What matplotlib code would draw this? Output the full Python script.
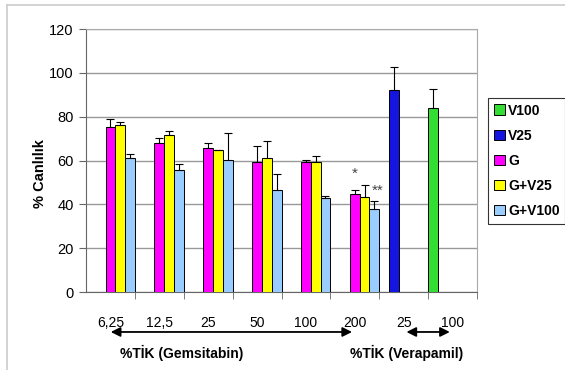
import numpy as np
import matplotlib.pyplot as plt
from matplotlib.lines import Line2D
import matplotlib.transforms as mtransforms

plt.rcParams['font.family'] = ['Liberation Sans', 'DejaVu Sans']

categories = ["6,25", "12,5", "25", "50", "100", "200", "25", "100"]
nan = np.nan
series = ["V100", "V25", "G", "G+V25", "G+V100"]
values = {
    "V100":   [nan, nan, nan, nan, nan, nan, nan, 84.1],
    "V25":    [nan, nan, nan, nan, nan, nan, 92.2, nan],
    "G":      [75.4, 68.1, 65.9, 59.3, 59.2, 44.6, nan, nan],
    "G+V25":  [76.1, 71.6, 64.9, 61.0, 59.2, 43.2, nan, nan],
    "G+V100": [61.0, 55.8, 60.1, 46.5, 42.7, 37.7, nan, nan],
}
errors = {
    "V100":   [nan, nan, nan, nan, nan, nan, nan, 8.7],
    "V25":    [nan, nan, nan, nan, nan, nan, 10.6, nan],
    "G":      [3.4, 2.3, 1.9, 7.5, 1.0, 1.9, nan, nan],
    "G+V25":  [1.3, 2.0, 0.0, 7.9, 3.0, 5.8, nan, nan],
    "G+V100": [2.0, 2.5, 12.6, 7.5, 1.0, 3.7, nan, nan],
}
colors = {
    "V100": "#33DD33",
    "V25": "#1515E0",
    "G": "#FF00FF",
    "G+V25": "#FFFF00",
    "G+V100": "#99CCFF",
}

fig = plt.figure(figsize=(5.65, 3.70), dpi=100)
ax = fig.add_axes([86 / 565, 1 - 292 / 370, 391 / 565, 263 / 370])

x = np.arange(len(categories))
w = 0.2
handles = []
for i, s in enumerate(series):
    xs = x + (i - 2) * w
    vals = np.array(values[s], dtype=float)
    errs = np.array(errors[s], dtype=float)
    ax.bar(xs, vals, width=w, color=colors[s], edgecolor="black", linewidth=0.7, zorder=3)
    ax.errorbar(xs, vals, yerr=[np.zeros_like(errs), errs], fmt="none",
                ecolor="black", elinewidth=0.8, capsize=3, capthick=0.8, zorder=4)
    handles.append(plt.Rectangle((0, 0), 1, 1, facecolor=colors[s], edgecolor="black", linewidth=0.7))

ax.set_xlim(-0.5, len(categories) - 0.5)
ax.set_ylim(0, 120)
ax.set_yticks(np.arange(0, 121, 20))
ax.yaxis.grid(True, color="#999999", linewidth=1.0, zorder=0)
ax.set_axisbelow(True)

ax.set_xticks(x)
ax.set_xticklabels(categories, fontsize=10)
ax.tick_params(axis="x", which="major", length=0, pad=17)
ax.set_xticks(np.arange(0.5, len(categories), 1.0), minor=True)
ax.tick_params(axis="x", which="minor", length=5, color="#666666")
ax.tick_params(axis="y", length=5, color="#666666", labelsize=10.5, pad=4)

for side in ["top", "right"]:
    ax.spines[side].set_color("#AAAAAA")
for side in ["left", "bottom"]:
    ax.spines[side].set_color("#666666")

# asterisks
ax.text(5.0, 54, "*", ha="center", va="center", fontsize=11, color="#444444")
ax.text(5.47, 46, "**", ha="center", va="center", fontsize=11, color="#444444")

# arrows and group labels below axis
trans = mtransforms.blended_transform_factory(ax.transData, ax.transAxes)
arrow_y = -0.152
ax.annotate("", xy=(-0.05, arrow_y), xytext=(5.0, arrow_y), xycoords=trans, textcoords=trans,
            arrowprops=dict(arrowstyle="<|-|>", color="black", lw=1.3, mutation_scale=14),
            annotation_clip=False)
ax.annotate("", xy=(6.0, arrow_y), xytext=(7.0, arrow_y), xycoords=trans, textcoords=trans,
            arrowprops=dict(arrowstyle="<|-|>", color="black", lw=1.3, mutation_scale=14),
            annotation_clip=False)
ax.text(1.45, -0.232, "%TİK (Gemsitabin)", transform=trans, ha="center", va="center",
        fontsize=10, fontweight="bold")
ax.text(6.05, -0.232, "%TİK (Verapamil)", transform=trans, ha="center", va="center",
        fontsize=10, fontweight="bold")

ax.text(-0.118, 0.45, "% Canlılık", transform=ax.transAxes, rotation=90,
        ha="center", va="center", fontsize=10.5, fontweight="bold")

leg = fig.legend(handles, series, loc="upper left", bbox_to_anchor=(488 / 565, 1 - 98 / 370),
                 frameon=True, fancybox=False, prop={"weight": "bold", "size": 10},
                 handlelength=0.8, handleheight=0.8, handletextpad=0.25, labelspacing=0.8,
                 borderpad=0.4, borderaxespad=0)
leg.get_frame().set_edgecolor("black")
leg.get_frame().set_linewidth(0.8)

# outer border lines
fig.add_artist(Line2D([7 / 565, 1], [1 - 5 / 370, 1 - 5 / 370], color="#CCCCCC", lw=1.2))
fig.add_artist(Line2D([7 / 565, 7 / 565], [0, 1 - 5 / 370], color="#CCCCCC", lw=1.2))

fig.savefig("out.png", dpi=100)
